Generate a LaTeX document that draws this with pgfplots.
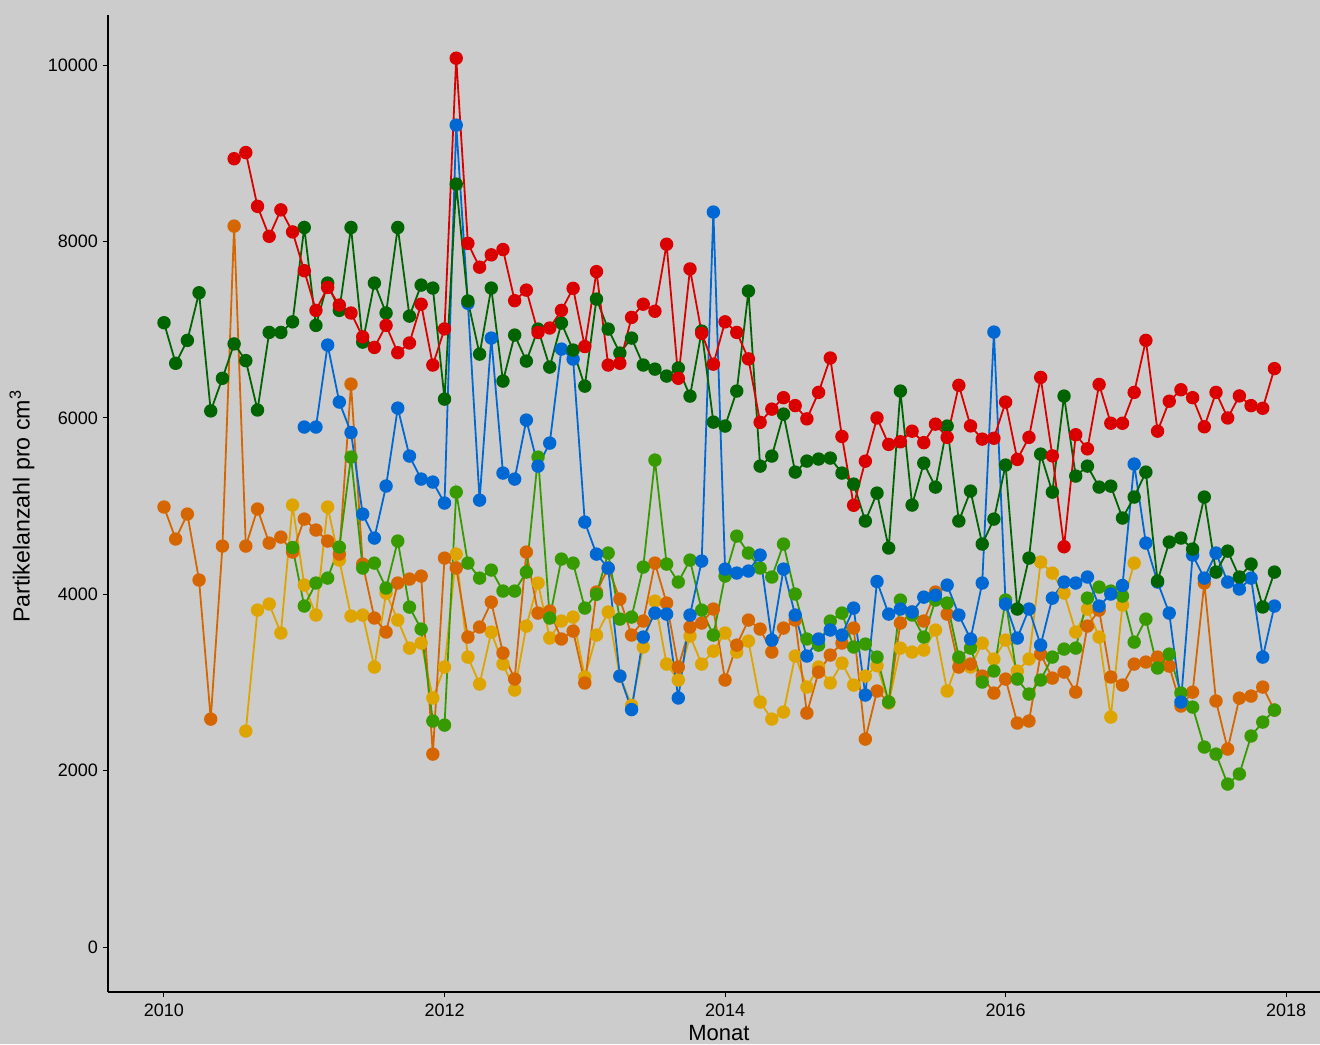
\documentclass[border=0pt]{standalone}
\usepackage{pgfplots}
\pgfplotsset{compat=1.18}
\usepackage{pgfplotstable}
\usepackage{fontspec}
\setmainfont{Liberation Sans}

\definecolor{bg}{RGB}{204,204,204}
\definecolor{cred}{RGB}{218,0,0}
\definecolor{cdg}{RGB}{0,100,0}
\definecolor{cblue}{RGB}{0,104,210}
\definecolor{clg}{RGB}{55,155,0}
\definecolor{corange}{RGB}{213,102,0}
\definecolor{cgold}{RGB}{222,165,0}

% month index (0 = Jan 2010), particle count per cm^3
\pgfplotstableread{
i v
6 8940
7 9010
8 8400
9 8060
10 8360
11 8110
12 7670
13 7220
14 7480
15 7280
16 7190
17 6920
18 6800
19 7050
20 6740
21 6850
22 7290
23 6600
24 7010
25 10080
26 7980
27 7710
28 7850
29 7910
30 7330
31 7450
32 6970
33 7020
34 7220
35 7470
36 6810
37 7660
38 6600
39 6620
40 7140
41 7290
42 7210
43 7970
44 6450
45 7690
46 6960
47 6610
48 7090
49 6970
50 6670
51 5950
52 6100
53 6230
54 6140
55 5990
56 6290
57 6680
58 5790
59 5010
60 5510
61 6000
62 5700
63 5730
64 5850
65 5720
66 5930
67 5780
68 6370
69 5910
70 5760
71 5770
72 6180
73 5530
74 5780
75 6460
76 5570
77 4540
78 5810
79 5650
80 6380
81 5940
82 5940
83 6290
84 6880
85 5850
86 6190
87 6320
88 6230
89 5900
90 6290
91 6000
92 6250
93 6140
94 6110
95 6560
}\red

\pgfplotstableread{
i v
0 7080
1 6620
2 6880
3 7420
4 6080
5 6450
6 6840
7 6650
8 6090
9 6970
10 6970
11 7090
12 8160
13 7050
14 7530
15 7220
16 8160
17 6860
18 7530
19 7190
20 8160
21 7155
22 7507
23 7473
24 6214
25 8652
26 7326
27 6724
28 7473
29 6418
30 6940
31 6645
32 7008
33 6577
34 7076
35 6770
36 6361
37 7348
38 7008
39 6736
40 6906
41 6600
42 6554
43 6475
44 6566
45 6248
46 6985
47 5953
48 5908
49 6305
50 7439
51 5454
52 5568
53 6044
54 5386
55 5511
56 5534
57 5545
58 5375
59 5250
60 4831
61 5148
62 4525
63 6305
64 5012
65 5488
66 5216
67 5908
68 4831
69 5171
70 4570
71 4853
72 5466
73 3833
74 4411
75 5590
76 5159
77 6248
78 5341
79 5454
80 5216
81 5227
82 4865
83 5103
84 5386
85 4150
86 4593
87 4638
88 4513
89 5103
90 4252
91 4490
92 4196
93 4343
94 3856
95 4252
}\dkgreen

\pgfplotstableread{
i v
12 5897
13 5897
14 6827
15 6180
16 5835
17 4910
18 4638
19 5228
20 6112
21 5568
22 5307
23 5273
24 5035
25 9321
26 7300
27 5068
28 6906
29 5375
30 5307
31 5976
32 5454
33 5715
34 6781
35 6668
36 4819
37 4456
38 4298
39 3073
40 2693
41 3515
42 3787
43 3776
44 2824
45 3765
46 4377
47 8335
48 4286
49 4241
50 4264
51 4445
52 3481
53 4286
54 3765
55 3300
56 3493
57 3595
58 3538
59 3844
60 2858
61 4145
62 3776
63 3833
64 3800
65 3968
66 3990
67 4105
68 3765
69 3493
70 4128
71 6974
72 3890
73 3504
74 3833
75 3424
76 3957
77 4139
78 4128
79 4196
80 3867
81 4003
82 4100
83 5477
84 4581
85 4139
86 3787
87 2778
88 4445
89 4184
90 4468
91 4139
92 4060
93 4184
94 3288
95 3867
}\blue

\pgfplotstableread{
i v
11 4530
12 3867
13 4128
14 4184
15 4536
16 5556
17 4298
18 4354
19 4071
20 4604
21 3855
22 3606
23 2563
24 2517
25 5159
26 4354
27 4184
28 4275
29 4037
30 4037
31 4252
32 5556
33 3731
34 4400
35 4354
36 3844
37 4000
38 4468
39 3719
40 3742
41 4309
42 5522
43 4343
44 4139
45 4388
46 3821
47 3538
48 4207
49 4660
50 4468
51 4298
52 4196
53 4570
54 4003
55 3493
56 3424
57 3697
58 3787
59 3402
60 3436
61 3288
62 2778
63 3935
64 3765
65 3515
66 3935
67 3901
68 3288
69 3390
70 3005
71 3130
72 3935
73 3039
74 2869
75 3028
76 3288
77 3379
78 3390
79 3957
80 4082
81 4037
82 3980
83 3458
84 3719
85 3164
86 3322
87 2880
88 2721
89 2268
90 2188
91 1848
92 1962
93 2393
94 2551
95 2687
}\ltgreen

\pgfplotstableread{
i v
0 4990
1 4627
2 4910
3 4162
4 2585
5 4547
6 8176
7 4547
8 4967
9 4581
10 4649
11 4479
12 4853
13 4729
14 4604
15 4456
16 6384
17 4343
18 3731
19 3572
20 4128
21 4173
22 4207
23 2188
24 4411
25 4298
26 3515
27 3629
28 3912
29 3334
30 3039
31 4479
32 3787
33 3810
34 3493
35 3583
36 2994
37 4026
38 4298
39 3946
40 3538
41 3697
42 4354
43 3901
44 3175
45 3629
46 3674
47 3833
48 3028
49 3424
50 3708
51 3606
52 3345
53 3617
54 3708
55 2653
56 3118
57 3311
58 3447
59 3617
60 2358
61 2903
62 2778
63 3674
64 3799
65 3697
66 4026
67 3776
68 3175
69 3209
70 3073
71 2880
72 3039
73 2540
74 2563
75 3322
76 3050
77 3118
78 2891
79 3640
80 3821
81 3062
82 2971
83 3209
84 3232
85 3288
86 3186
87 2733
88 2891
89 4128
90 2790
91 2245
92 2823
93 2846
94 2948
95 2687
}\orange

\pgfplotstableread{
i v
7 2449
8 3821
9 3890
10 3561
11 5012
12 4105
13 3765
14 4990
15 4388
16 3753
17 3765
18 3175
19 4014
20 3708
21 3390
22 3447
23 2824
24 3175
25 4456
26 3288
27 2982
28 3572
29 3209
30 2914
31 3640
32 4128
33 3504
34 3697
35 3742
36 3062
37 3538
38 3799
39 3073
40 2740
41 3402
42 3923
43 3209
44 3028
45 3527
46 3209
47 3356
48 3561
49 3345
50 3470
51 2778
52 2585
53 2665
54 3300
55 2948
56 3175
57 2994
58 3220
59 2971
60 3073
61 3190
62 2767
63 3390
64 3345
65 3368
66 3595
67 2903
68 3266
69 3175
70 3447
71 3266
72 3481
73 3130
74 3266
75 4366
76 4241
77 4014
78 3572
79 3833
80 3515
81 2608
82 3878
83 4354
}\gold

\begin{document}
\begin{tikzpicture}
\path[use as bounding box, fill=bg] (-54pt,-26pt) rectangle (606pt,496pt);
\begin{axis}[
  scale only axis,
  width=606pt, height=488.5pt,
  xmin=-4.79, xmax=98.9,
  ymin=-510, ymax=10570,
  axis lines*=left,
  axis line style={black, line width=0.6pt},
  xtick={0,24,48,72,96},
  xticklabels={2010,2012,2014,2016,2018},
  ytick={0,2000,4000,6000,8000,10000},
  scaled y ticks=false,
  /pgf/number format/1000 sep={},
  /pgf/number format/assume math mode=true,
  tick align=outside,
  major tick length=2.5pt,
  tick style={black, line width=0.5pt},
  tick label style={font=\fontsize{9}{11}\selectfont, text=black},
  yticklabel style={xshift=1pt},
  xlabel={Monat},
  ylabel={Partikelanzahl pro cm\textsuperscript{3}},
  xlabel style={font=\fontsize{11}{13}\selectfont, at={(axis description cs:0.504,0)}, anchor=center, yshift=-20.5pt},
  ylabel style={font=\fontsize{11.6}{13}\selectfont, at={(axis description cs:-0.071,0.497)}, anchor=center},
  every axis plot/.append style={line width=0.9pt, mark=*, mark size=2.9pt, mark options={solid}},
]
\addplot[color=cgold] table[x=i, y=v] {\gold};
\addplot[color=corange] table[x=i, y=v] {\orange};
\addplot[color=clg] table[x=i, y=v] {\ltgreen};
\addplot[color=cblue] table[x=i, y=v] {\blue};
\addplot[color=cdg] table[x=i, y=v] {\dkgreen};
\addplot[color=cred] table[x=i, y=v] {\red};
\end{axis}
\end{tikzpicture}
\end{document}
